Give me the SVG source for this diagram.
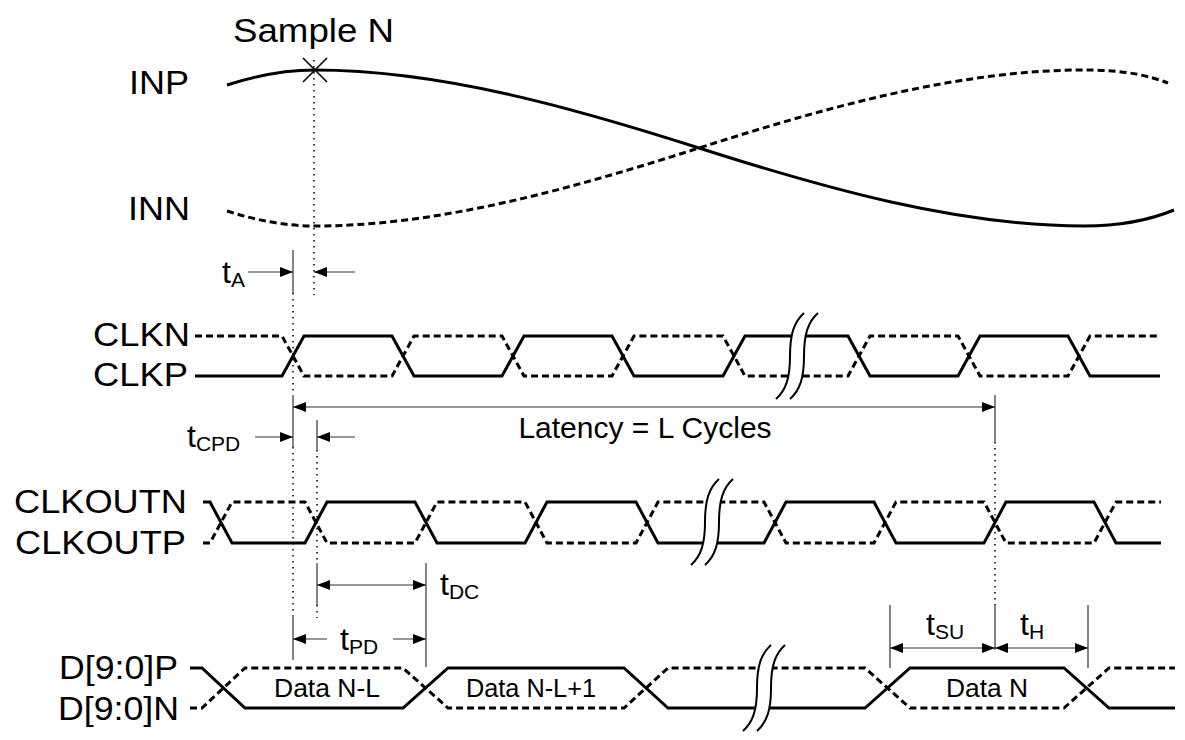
<svg xmlns="http://www.w3.org/2000/svg" width="1185" height="740" viewBox="0 0 1185 740">
<style>
text{font-family:"Liberation Sans",Arial,Helvetica,sans-serif;fill:#000}
.lbl{font-size:33px}
.t{font-size:32px}
.sub{font-size:21px}
.data{font-size:25px}
.wave{fill:none;stroke:#000;stroke-width:3;stroke-linejoin:miter}
.dash{stroke-dasharray:7,4}
.dot{fill:none;stroke:#000;stroke-width:1.5;stroke-dasharray:1.5,4.5}
.dim{fill:none;stroke:#333;stroke-width:1.2}
.brk{fill:none;stroke:#000;stroke-width:2}
</style>
<defs>
<marker id="ah" viewBox="0 0 13 10" refX="13" refY="5" markerWidth="13" markerHeight="10" markerUnits="userSpaceOnUse" orient="auto-start-reverse">
<path d="M0,0 L13,5 L0,10 Z" fill="#000"/>
</marker>
<g id="break">
<path d="M14,-43 C4,-34 0,-22 0,0 C0,22 -4,34 -14,43 L0,43 C10,34 14,22 14,0 C14,-22 18,-34 28,-43 Z" fill="#fff" stroke="none"/>
<path class="brk" d="M14,-43 C4,-34 0,-22 0,0 C0,22 -4,34 -14,43"/>
<path class="brk" d="M28,-43 C18,-34 14,-22 14,0 C14,22 10,34 0,43"/>
</g>
</defs>
<rect width="1185" height="740" fill="#fff"/>

<g id="labels">
<text class="lbl" x="233" y="42" textLength="161" lengthAdjust="spacingAndGlyphs">Sample N</text>
<text class="lbl" x="129" y="94" textLength="60" lengthAdjust="spacingAndGlyphs">INP</text>
<text class="lbl" x="128" y="220" textLength="62" lengthAdjust="spacingAndGlyphs">INN</text>
<text class="lbl" x="93" y="346" textLength="97" lengthAdjust="spacingAndGlyphs">CLKN</text>
<text class="lbl" x="93" y="386" textLength="95" lengthAdjust="spacingAndGlyphs">CLKP</text>
<text class="lbl" x="14" y="513" textLength="173" lengthAdjust="spacingAndGlyphs">CLKOUTN</text>
<text class="lbl" x="15" y="554" textLength="171" lengthAdjust="spacingAndGlyphs">CLKOUTP</text>
<text class="lbl" x="59" y="679" textLength="119" lengthAdjust="spacingAndGlyphs">D[9:0]P</text>
<text class="lbl" x="58" y="720" textLength="121" lengthAdjust="spacingAndGlyphs">D[9:0]N</text>
</g>

<g id="analog">
<path class="wave" d="M227,85 C258,75 288,70 315,70 C440,70 574,108 699,148 C824,188 958,226 1084,226 C1112,226 1145,222 1174,210"/>
<path class="wave dash" d="M227,211 C258,221 288,226 315,226 C440,226 574,188 699,148 C824,108 958,70 1084,70 C1110,70 1140,72 1168,83"/>
<path d="M303,58 L327,82 M303,82 L327,58" stroke="#000" stroke-width="1.6" fill="none"/>
</g>

<g id="clk">
<path class="wave dash" d="M195,336 H282 L304,376 H392 L414,336 H502 L524,376 H612 L634,336 H723 L745,376 H848 L870,336 H958 L980,376 H1068 L1090,336 H1160"/>
<path class="wave" d="M195,376 H282 L304,336 H392 L414,376 H502 L524,336 H612 L634,376 H723 L745,336 H848 L870,376 H958 L980,336 H1068 L1090,376 H1160"/>
<use href="#break" transform="translate(790,356)"/>
</g>

<g id="clkout">
<path class="wave dash" d="M203,543 H210 L232,502 H305 L327,543 H415 L437,502 H525 L547,543 H636 L658,502 H764 L786,543 H874 L896,502 H984 L1006,543 H1094 L1116,502 H1161"/>
<path class="wave" d="M203,502 H210 L232,543 H305 L327,502 H415 L437,543 H525 L547,502 H636 L658,543 H764 L786,502 H874 L896,543 H984 L1006,502 H1094 L1116,543 H1161"/>
<use href="#break" transform="translate(705,522)"/>
</g>

<g id="data">
<path class="wave dash" d="M190,708 H202 L245,668 H403 L448,708 H624 L668,668 H865 L910,708 H1064 L1109,668 H1175"/>
<path class="wave" d="M190,668 H202 L245,708 H403 L448,668 H624 L668,708 H865 L910,668 H1064 L1109,708 H1175"/>
<use href="#break" transform="translate(757,688)"/>
<text class="data" x="327" y="697" text-anchor="middle" textLength="106" lengthAdjust="spacingAndGlyphs">Data N-L</text>
<text class="data" x="531" y="697" text-anchor="middle" textLength="130" lengthAdjust="spacingAndGlyphs">Data N-L+1</text>
<text class="data" x="987" y="697" text-anchor="middle" textLength="82" lengthAdjust="spacingAndGlyphs">Data N</text>
</g>

<g id="connectors">
<path class="dot" d="M314,60 V295"/>
<path class="dim" d="M293,250 V293"/>
<path class="dot" d="M293,293 V395"/>
<path class="dim" d="M293,395 V447"/>
<path class="dot" d="M293,447 V615"/>
<path class="dim" d="M293,615 V660"/>
<path class="dim" d="M317,420 V450"/>
<path class="dot" d="M317,450 V563"/>
<path class="dim" d="M317,563 V605"/>
<path class="dot" d="M317,605 V618"/>
<path class="dim" d="M426,563 V667"/>
<path class="dim" d="M995,395 V442"/>
<path class="dot" d="M995,442 V605"/>
<path class="dim" d="M995,605 V650"/>
<path class="dim" d="M890,605 V668"/>
<path class="dim" d="M1088,605 V668"/>
<path class="dim" d="M248,272 H293" marker-end="url(#ah)"/>
<path class="dim" d="M355,272 H314" marker-end="url(#ah)"/>
<path class="dim" d="M293,407 H995" marker-start="url(#ah)" marker-end="url(#ah)"/>
<path class="dim" d="M255,437 H293" marker-end="url(#ah)"/>
<path class="dim" d="M355,437 H317" marker-end="url(#ah)"/>
<path class="dim" d="M317,585 H426" marker-start="url(#ah)" marker-end="url(#ah)"/>
<path class="dim" d="M327,639 H293" marker-end="url(#ah)"/>
<path class="dim" d="M393,639 H426" marker-end="url(#ah)"/>
<path class="dim" d="M890,648 H995" marker-start="url(#ah)" marker-end="url(#ah)"/>
<path class="dim" d="M995,648 H1088" marker-start="url(#ah)" marker-end="url(#ah)"/>
</g>

<g id="timing-labels">
<text x="222" y="283"><tspan class="t">t</tspan><tspan class="sub" dy="4">A</tspan></text>
<text x="187" y="447"><tspan class="t">t</tspan><tspan class="sub" dy="4">CPD</tspan></text>
<text x="440" y="595"><tspan class="t">t</tspan><tspan class="sub" dy="4">DC</tspan></text>
<text x="340" y="650"><tspan class="t">t</tspan><tspan class="sub" dy="4">PD</tspan></text>
<text x="926" y="635"><tspan class="t">t</tspan><tspan class="sub" dy="4">SU</tspan></text>
<text x="1020" y="635"><tspan class="t">t</tspan><tspan class="sub" dy="4">H</tspan></text>
<text x="645" y="438" text-anchor="middle" style="font-size:30px">Latency = L Cycles</text>
</g>
</svg>
